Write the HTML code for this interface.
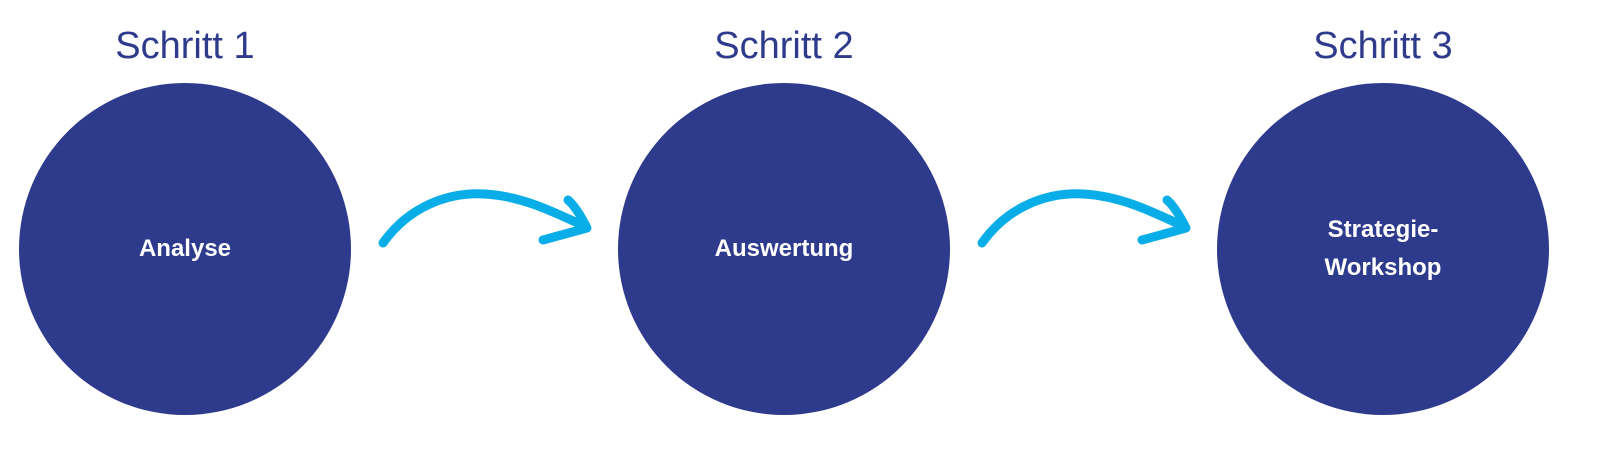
<!DOCTYPE html>
<html><head><style>
body{margin:0;width:1600px;height:450px;background:#fff;overflow:hidden;position:relative;font-family:"Liberation Sans",sans-serif}
.c{position:absolute;top:83px;width:332px;height:332px;border-radius:50%;background:#2e3a8b;display:flex;align-items:center;justify-content:center;color:#fff;font-weight:bold;font-size:24px;text-align:center;line-height:38px}
.t{position:absolute;top:25px;width:332px;text-align:center;color:#2e3a8b;font-size:38px}
</style></head><body>
<div class="t" style="left:19px">Schritt 1</div>
<div class="t" style="left:618px">Schritt 2</div>
<div class="t" style="left:1217px">Schritt 3</div>
<div class="c" style="left:19px">Analyse</div>
<div class="c" style="left:618px">Auswertung</div>
<div class="c" style="left:1217px"><span>Strategie-<br>Workshop</span></div>
<svg width="1600" height="450" style="position:absolute;left:0;top:0" fill="none" stroke="#09aee9" stroke-width="9" stroke-linecap="round" stroke-linejoin="round">
<g id="a"><path d="M383 243 C410 205 450 192 485 194 C520 196 550 210 584 226"/><path d="M568 200 C575 206 582 218 587 228 L543 240"/></g>
<use href="#a" x="599"/>
</svg>
</body></html>
